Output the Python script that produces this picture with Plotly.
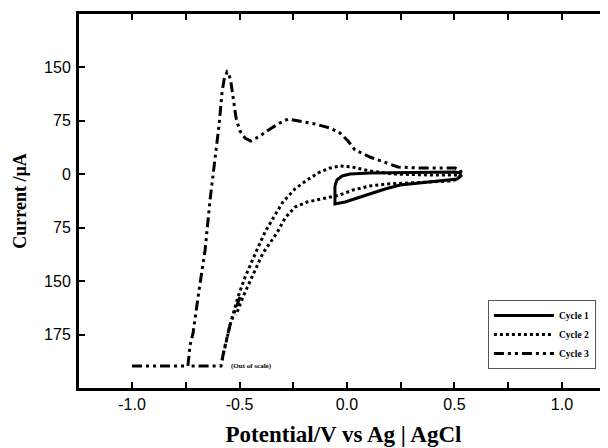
import plotly.graph_objects as go

# ---- data (potential in V, current in µA) ----
cycle1_x = [-0.056, -0.047, -0.023, 0.014, 0.107, 0.340, 0.502, 0.526, 0.530, 0.512,
            0.433, 0.340, 0.247, 0.177, 0.107, 0.037, -0.009, -0.056, -0.056]
cycle1_y = [-16.8, -8.4, -2.8, 0.0, 1.4, 2.8, 2.8, 1.4, -2.8, -7.0,
            -9.8, -12.6, -15.4, -21.0, -28.0, -35.0, -39.3, -42.1, -16.8]

cycle2_x = [-0.581, -0.544, -0.507, -0.474, -0.419, -0.381, -0.335, -0.298, -0.242, -0.186,
            -0.126, -0.079, -0.033, 0.023, 0.107, 0.214, 0.386, 0.502, 0.526, 0.516,
            0.479, 0.386, 0.247, 0.186, 0.107, 0.028, -0.033, -0.093, -0.186, -0.242,
            -0.288, -0.326, -0.391, -0.442, -0.484, -0.516]
cycle2_y = [-260.8, -211.7, -172.4, -144.4, -106.5, -81.3, -57.5, -39.3, -21.0, -8.4,
            2.8, 8.4, 11.2, 9.8, 4.2, 0.0, -1.4, -1.4, -2.8, -7.0,
            -9.8, -11.2, -12.6, -14.0, -16.8, -22.4, -29.4, -33.6, -39.3, -46.3,
            -61.7, -82.7, -110.8, -144.4, -172.4, -197.7]

cycle3_x = [-1.000, -0.740, -0.730, -0.716, -0.688, -0.660, -0.637, -0.619, -0.605, -0.595,
            -0.581, -0.572, -0.558, -0.549, -0.540, -0.530, -0.516, -0.498, -0.474, -0.447,
            -0.405, -0.358, -0.312, -0.274, -0.219, -0.149, -0.079, -0.033, 0.005, 0.037,
            0.107, 0.186, 0.237, 0.340, 0.502, 0.526, 0.532,
            None,
            -0.498, -0.544, -0.572, -0.586, -0.740]
cycle3_y = [-269.0, -269.0, -239.7, -222.9, -162.6, -106.5, -36.4, 5.6, 43.5, 68.7,
            115.0, 131.8, 143.0, 140.2, 129.0, 106.5, 78.5, 60.3, 50.5, 46.3,
            53.3, 63.1, 71.5, 77.1, 74.3, 70.1, 64.5, 57.5, 46.3, 33.6,
            23.8, 15.4, 9.8, 8.4, 8.4, 5.6, 1.4,
            None,
            -172.4, -211.7, -246.7, -269.0, -269.0]

series_names = ["Cycle 1", "Cycle 2", "Cycle 3"]

x_tickvals = [-1.0, -0.75, -0.5, -0.25, 0.0, 0.25, 0.5, 0.75, 1.0]
x_ticktext = ["-1.0", "", "-0.5", "", "0.0", "", "0.5", "", "1.0"]
y_tickvals = [150, 75, 0, -75, -150, -225]
y_ticktext = ["150", "75", "0", "75", "150", "175"]

fig = go.Figure()
fig.add_trace(go.Scatter(x=cycle1_x, y=cycle1_y, mode="lines", name="<b>" + series_names[0] + "</b>",
                         line=dict(color="black", width=3, dash="solid"),
                         connectgaps=False))
fig.add_trace(go.Scatter(x=cycle2_x, y=cycle2_y, mode="lines", name="<b>" + series_names[1] + "</b>",
                         line=dict(color="black", width=3, dash="3px,3px"),
                         connectgaps=False))
fig.add_trace(go.Scatter(x=cycle3_x, y=cycle3_y, mode="lines", name="<b>" + series_names[2] + "</b>",
                         line=dict(color="black", width=3, dash="10px,4px,3px,4px,3px,4px"),
                         connectgaps=False))

fig.add_annotation(x=-0.549, y=-269, text="<b>(Out of scale)</b>", showarrow=False,
                   xanchor="left", yanchor="middle",
                   font=dict(family="Liberation Serif", size=7, color="black"))

fig.update_layout(
    width=600, height=440,
    margin=dict(l=71, r=0, t=6, b=60),
    paper_bgcolor="white", plot_bgcolor="white",
    showlegend=True,
    legend=dict(x=0.773, y=0.235, xanchor="left", yanchor="top",
                bordercolor="#555", borderwidth=1, bgcolor="white",
                font=dict(family="Liberation Serif", size=9.5, color="black"),
                tracegroupgap=0, itemwidth=60),
)
fig.update_xaxes(
    range=[-1.2465, 1.214], showgrid=False, zeroline=False,
    showline=True, linecolor="black", linewidth=3, mirror="ticks",
    ticks="inside", ticklen=6, tickwidth=2, tickcolor="black",
    tickvals=x_tickvals, ticktext=x_ticktext,
    tickfont=dict(family="Liberation Sans", size=16, color="black"),
    title=dict(text="<b>Potential/V vs Ag | AgCl</b>", standoff=14,
               font=dict(family="Liberation Serif", size=23, color="black")),
)
fig.update_yaxes(
    range=[-300.0, 224.3], showgrid=False, zeroline=False,
    showline=True, linecolor="black", linewidth=3, mirror=False,
    ticks="inside", ticklen=6, tickwidth=2, tickcolor="black",
    tickvals=y_tickvals, ticktext=y_ticktext,
    tickfont=dict(family="Liberation Sans", size=16, color="black"),
    ticklabelstandoff=2,
    title=dict(text="<b>Current /µA</b>", standoff=13,
               font=dict(family="Liberation Serif", size=18, color="black")),
)

fig.write_html("out.html")
